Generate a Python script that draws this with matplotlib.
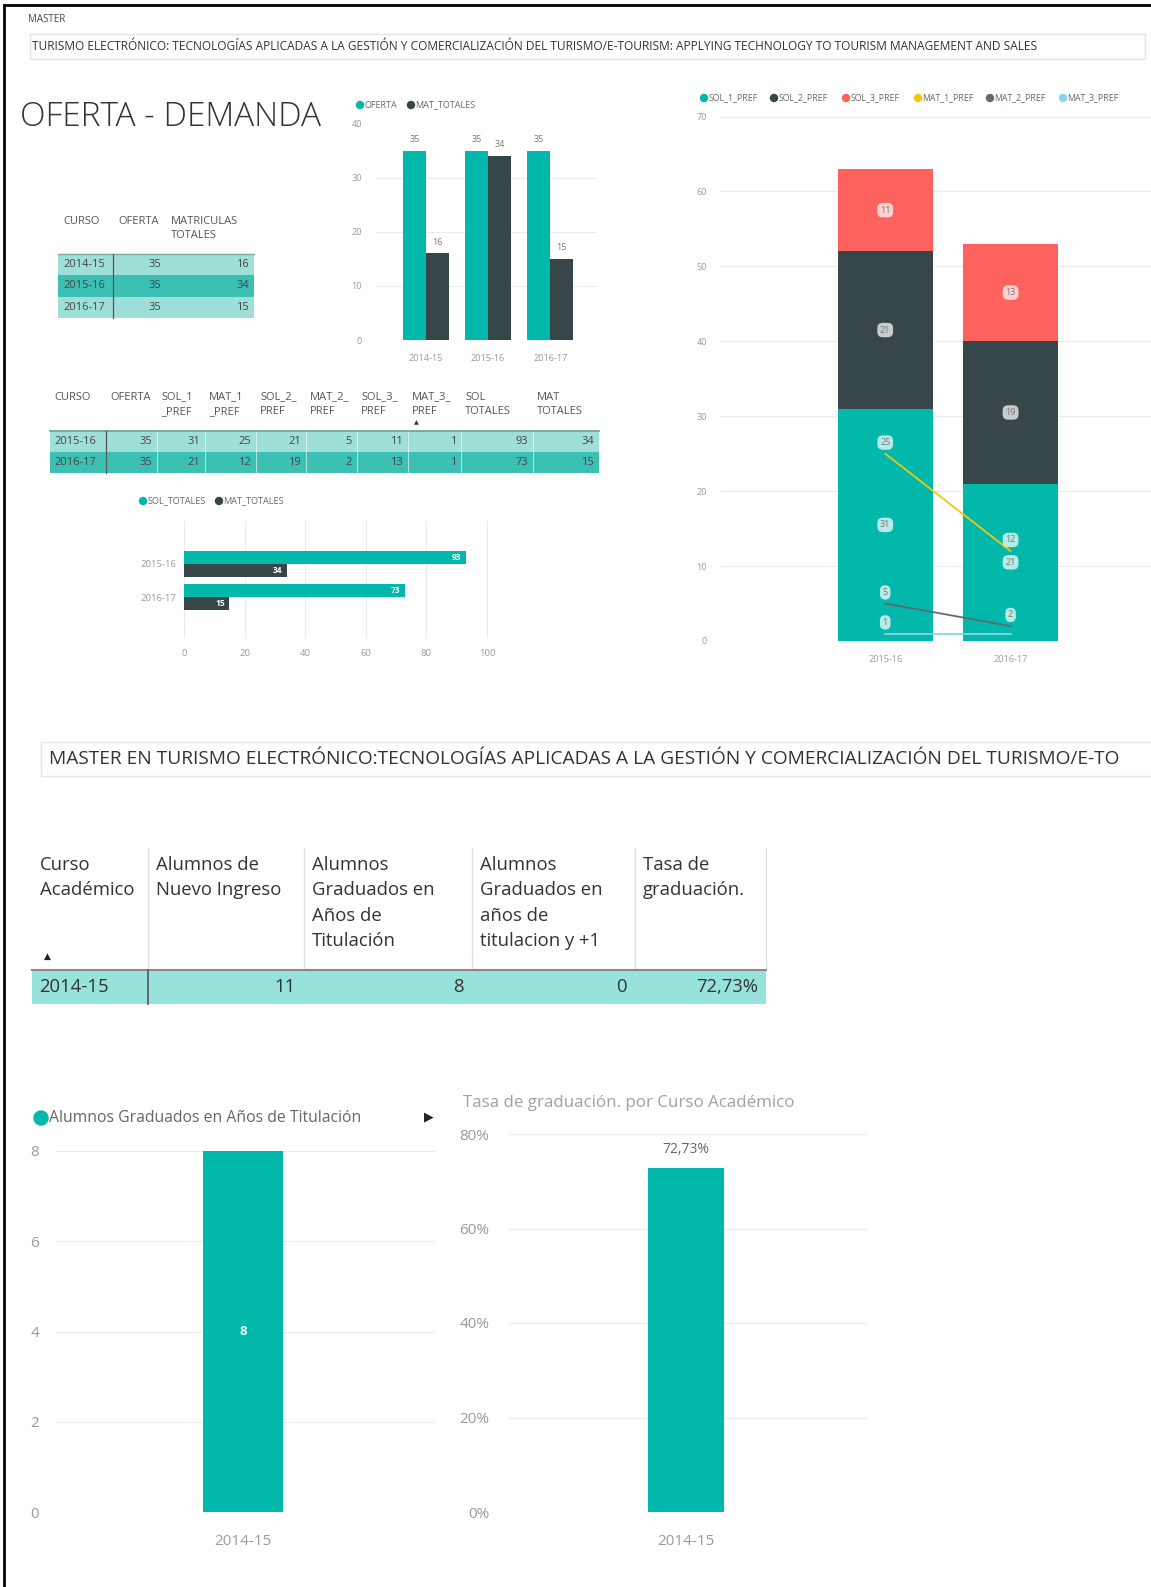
import matplotlib
matplotlib.use("Agg")
import matplotlib.pyplot as plt
from matplotlib.patches import Rectangle, Circle
from matplotlib.ticker import FuncFormatter

plt.rcParams['font.family'] = ['Open Sans', 'DejaVu Sans']

# ---- data ----
cursos_oferta = ['2014-15', '2015-16', '2016-17']
oferta = [35, 35, 35]
mat_totales = [16, 34, 15]

cursos_pref = ['2015-16', '2016-17']
oferta_pref = [35, 35]
sol_1_pref = [31, 21]
mat_1_pref = [25, 12]
sol_2_pref = [21, 19]
mat_2_pref = [5, 2]
sol_3_pref = [11, 13]
mat_3_pref = [1, 1]
sol_totales = [93, 73]
mat_totales_pref = [34, 15]

curso_academico = ['2014-15']
nuevo_ingreso = [11]
graduados_anios = [8]
graduados_anios_mas1 = [0]
tasa_graduacion = [72.73]

# power bi palette
TEAL = '#01B8AA'
DARK = '#374649'
RED = '#FD625E'
YELLOW = '#F2C80F'
GRAY = '#5F6B6D'
LBLUE = '#8AD4EB'
ROW_LIGHT = '#9EE0D8'
ROW_MID = '#3CC0B3'
GRID = '#EBEBEB'
TICK = '#9A9A9A'

W, H = 1151, 1587
fig = plt.figure(figsize=(W / 100, H / 100), dpi=100)

bg = fig.add_axes([0, 0, 1, 1])
bg.set_xlim(0, W)
bg.set_ylim(H, 0)
bg.axis('off')


def px_ax(x0, y0, x1, y1):
    return fig.add_axes([x0 / W, 1 - y1 / H, (x1 - x0) / W, (y1 - y0) / H])


def clean(ax, grid_axis='y'):
    for s in ax.spines.values():
        s.set_visible(False)
    ax.tick_params(length=0, colors=TICK)
    ax.grid(axis=grid_axis, color=GRID, lw=0.8)
    ax.set_axisbelow(True)
    ax.set_facecolor('none')


def legend_dot(x, y, r, color, label, size):
    bg.add_patch(Circle((x, y), r, color=color))
    bg.text(x + r + 1, y, label, fontsize=size, color='#666666', va='center')


# frame
bg.plot([4, 4], [5, H], color='black', lw=2)
bg.plot([4, W], [5, 5], color='black', lw=2)

# header
bg.text(28, 19, 'MASTER', fontsize=7, color='#444444', va='center')
bg.add_patch(Rectangle((30, 34), 1115, 25, fc='white', ec='#E4E4E4', lw=1))
bg.text(32, 46.5, 'TURISMO ELECTRÓNICO: TECNOLOGÍAS APLICADAS A LA GESTIÓN Y COMERCIALIZACIÓN DEL '
        'TURISMO/E-TOURISM: APPLYING TECHNOLOGY TO TOURISM MANAGEMENT AND SALES',
        fontsize=8.6, color='#333333', va='center')

bg.text(20, 117, 'OFERTA - DEMANDA', fontsize=24, color='#333333', va='center', fontweight='light')

# ---- table 1 ----
hs = 8
bg.text(63, 221, 'CURSO', fontsize=hs, color='#555555', va='center')
bg.text(118, 221, 'OFERTA', fontsize=hs, color='#555555', va='center')
bg.text(171, 221, 'MATRICULAS', fontsize=hs, color='#555555', va='center')
bg.text(171, 236, 'TOTALES', fontsize=hs, color='#555555', va='center')
rh = 21.3
for i, (c, o, m) in enumerate(zip(cursos_oferta, oferta, mat_totales)):
    y0 = 254 + i * rh
    bg.add_patch(Rectangle((58, y0), 196, rh, fc=ROW_MID if i == 1 else ROW_LIGHT, ec='none'))
    bg.text(63, y0 + rh / 2, c, fontsize=hs, color='#444444', va='center')
    bg.text(161, y0 + rh / 2, str(o), fontsize=hs, color='#444444', va='center', ha='right')
    bg.text(249, y0 + rh / 2, str(m), fontsize=hs, color='#444444', va='center', ha='right')
bg.plot([58, 254], [254, 254], color='#7AA8A3', lw=1)
bg.plot([113, 113], [254, 254 + 3 * rh], color='#555555', lw=0.9)

# ---- bar chart oferta / matriculas ----
legend_dot(360, 105, 3.5, TEAL, 'OFERTA', 6.5)
legend_dot(411, 105, 3.5, DARK, 'MAT_TOTALES', 6.5)
ax1 = px_ax(376, 123.5, 597, 340)
clean(ax1)
xs = list(range(len(cursos_oferta)))
bw = 0.37
b1 = ax1.bar([x - bw / 2 for x in xs], oferta, bw, color=TEAL)
b2 = ax1.bar([x + bw / 2 for x in xs], mat_totales, bw, color=DARK)
for bars, vals in ((b1, oferta), (b2, mat_totales)):
    for b, v in zip(bars, vals):
        ax1.text(b.get_x() + b.get_width() / 2, v + 1.2, str(v), ha='center', va='bottom',
                 fontsize=6.5, color='#777777')
ax1.set_ylim(0, 40)
ax1.set_yticks([0, 10, 20, 30, 40])
ax1.set_xlim(-0.8, 2.75)
ax1.set_xticks(xs)
ax1.set_xticklabels(cursos_oferta)
ax1.tick_params(labelsize=6.6, pad=10)

# ---- table 2 ----
t2_bounds = [50, 106, 157, 205, 256, 306, 357, 408, 461, 533, 599]
t2_head = [('CURSO', ''), ('OFERTA', ''), ('SOL_1', '_PREF'), ('MAT_1', '_PREF'), ('SOL_2_', 'PREF'),
           ('MAT_2_', 'PREF'), ('SOL_3_', 'PREF'), ('MAT_3_', 'PREF'), ('SOL', 'TOTALES'), ('MAT', 'TOTALES')]
for j, (l1, l2) in enumerate(t2_head):
    x = t2_bounds[j] + 4
    bg.text(x, 397, l1, fontsize=hs, color='#555555', va='center')
    if l2:
        bg.text(x, 412, l2, fontsize=hs, color='#555555', va='center')
bg.text(416, 423, '▲', fontsize=4.5, color='#333333', ha='center', va='center')
t2_rows = list(zip(oferta_pref, sol_1_pref, mat_1_pref, sol_2_pref, mat_2_pref,
                   sol_3_pref, mat_3_pref, sol_totales, mat_totales_pref))
rh2 = 21
for i, (c, vals) in enumerate(zip(cursos_pref, t2_rows)):
    y0 = 431 + i * rh2
    bg.add_patch(Rectangle((50, y0), 549, rh2, fc=ROW_LIGHT if i == 0 else ROW_MID, ec='none'))
    bg.text(54, y0 + rh2 / 2, c, fontsize=hs, color='#444444', va='center')
    for j, v in enumerate(vals):
        bg.text(t2_bounds[j + 2] - 5, y0 + rh2 / 2, str(v), fontsize=hs, color='#444444',
                va='center', ha='right')
for xb in t2_bounds[2:-1]:
    bg.plot([xb, xb], [431, 431 + 2 * rh2], color='white', lw=0.6, alpha=0.7)
bg.plot([50, 599], [431, 431], color='#6F9C97', lw=1.2)
bg.plot([106, 106], [431, 431 + 2 * rh2], color='#555555', lw=0.9)

# ---- horizontal bars sol / mat totales ----
legend_dot(143, 501, 3.5, TEAL, 'SOL_TOTALES', 6.6)
legend_dot(219, 501, 3.5, DARK, 'MAT_TOTALES', 6.6)
ax2 = px_ax(181, 521, 490, 638)
clean(ax2, 'x')
ys = list(range(len(cursos_pref)))
bh = 0.38
h1 = ax2.barh([y - bh / 2 for y in ys], sol_totales, bh, color=TEAL)
h2 = ax2.barh([y + bh / 2 for y in ys], mat_totales_pref, bh, color=DARK)
for bars, vals in ((h1, sol_totales), (h2, mat_totales_pref)):
    for b, v in zip(bars, vals):
        ax2.text(v - 1.5, b.get_y() + b.get_height() / 2, str(v), ha='right', va='center',
                 fontsize=6, color='white', fontweight='bold')
ax2.set_xlim(-1, 101)
ax2.set_xticks([0, 20, 40, 60, 80, 100])
ax2.set_ylim(2.23, -1.29)
ax2.set_yticks(ys)
ax2.set_yticklabels(cursos_pref)
ax2.tick_params(labelsize=6.8)
ax2.tick_params(axis='x', pad=8)

# ---- stacked preferences chart ----
leg = [(704, TEAL, 'SOL_1_PREF'), (774, DARK, 'SOL_2_PREF'), (846, RED, 'SOL_3_PREF'),
       (918, YELLOW, 'MAT_1_PREF'), (990, GRAY, 'MAT_2_PREF'), (1063, LBLUE, 'MAT_3_PREF')]
for x, c, l in leg:
    legend_dot(x, 98, 3.5, c, l, 6.3)
ax3 = px_ax(721, 116.5, 1151, 641)
clean(ax3)
xs3 = list(range(len(cursos_pref)))
bw3 = 0.76
box = dict(boxstyle='round,pad=0.3,rounding_size=0.6', fc='white', ec='none', alpha=0.72)
bottom = [0, 0]
for vals, c in ((sol_1_pref, TEAL), (sol_2_pref, DARK), (sol_3_pref, RED)):
    ax3.bar(xs3, vals, bw3, bottom=bottom, color=c)
    for x, v, b in zip(xs3, vals, bottom):
        ax3.text(x, b + v / 2, str(v), ha='center', va='center', fontsize=6.5,
                 color='#777777', bbox=box)
    bottom = [b + v for b, v in zip(bottom, vals)]
placed = []
for vals, c in ((mat_1_pref, YELLOW), (mat_2_pref, GRAY), (mat_3_pref, LBLUE)):
    ax3.plot(xs3, vals, color=c, lw=1.3)
    for x, v in zip(xs3, vals):
        # hide labels that would overlap one already drawn
        if any(px == x and abs(pv - v) < 2 for px, pv in placed):
            continue
        placed.append((x, v))
        ax3.annotate(str(v), (x, v), xytext=(0, 8), textcoords='offset points', ha='center',
                     va='center', fontsize=6.5, color='#777777', bbox=box)
ax3.set_ylim(0, 70)
ax3.set_yticks([0, 10, 20, 30, 40, 50, 60, 70])
ax3.set_xlim(-1.31, 2.12)
ax3.set_xticks(xs3)
ax3.set_xticklabels(cursos_pref)
ax3.tick_params(labelsize=6.6, pad=10)

# ---- second section ----
bg.add_patch(Rectangle((41, 742), 1120, 34, fc='white', ec='#E4E4E4', lw=1))
bg.text(49, 759.5, 'MASTER EN TURISMO ELECTRÓNICO:TECNOLOGÍAS APLICADAS A LA GESTIÓN Y '
        'COMERCIALIZACIÓN DEL TURISMO/E-TO', fontsize=13.8, color='#333333', va='center')

# ---- table 3 ----
t3_bounds = [32, 148, 304, 472, 635, 766]
t3_head = [['Curso', 'Académico'], ['Alumnos de', 'Nuevo Ingreso'],
           ['Alumnos', 'Graduados en', 'Años de', 'Titulación'],
           ['Alumnos', 'Graduados en', 'años de', 'titulacion y +1'],
           ['Tasa de', 'graduación.']]
for j, lines in enumerate(t3_head):
    for k, l in enumerate(lines):
        bg.text(t3_bounds[j] + 8, 865 + k * 25.3, l, fontsize=13.3, color='#333333', va='center')
for xb in t3_bounds[1:]:
    bg.plot([xb, xb], [848, 970], color='#E0E0E0', lw=1)
bg.text(47, 956, '▲', fontsize=6.5, color='#222222', ha='center', va='center')
t3_rows = list(zip(curso_academico, nuevo_ingreso, graduados_anios, graduados_anios_mas1, tasa_graduacion))
for i, (c, n, g, g1, t) in enumerate(t3_rows):
    y0 = 970 + i * 34
    bg.add_patch(Rectangle((32, y0), 734, 34, fc='#97E2DA', ec='none'))
    bg.text(39, y0 + 17, c, fontsize=13.3, color='#333333', va='center')
    cells = [str(n), str(g), str(g1), f'{t:.2f}'.replace('.', ',') + '%']
    for j, s in enumerate(cells):
        bg.text(t3_bounds[j + 2] - 8, y0 + 17, s, fontsize=13.3, color='#333333', va='center', ha='right')
bg.plot([32, 766], [970, 970], color='#8A8A8A', lw=1.5)
bg.plot([148, 148], [970, 1004], color='#555555', lw=1.2)

# ---- graduados chart ----
legend_dot(41, 1118, 7, TEAL, 'Alumnos Graduados en Años de Titulación', 11.3)
bg.text(429, 1117, '▶', fontsize=9, color='#222222', ha='center', va='center')
ax4 = px_ax(56, 1151, 435, 1512)
clean(ax4)
xs4 = list(range(len(curso_academico)))
b4 = ax4.bar(xs4, graduados_anios, 0.8, color=TEAL)
for x, v in zip(xs4, graduados_anios):
    ax4.text(x, v / 2, str(v), ha='center', va='center', fontsize=9.5, color='white', fontweight='bold')
ax4.set_ylim(0, 8)
ax4.set_yticks([0, 2, 4, 6, 8])
ax4.set_xlim(-1.87, 1.92)
ax4.set_xticks(xs4)
ax4.set_xticklabels(curso_academico)
ax4.tick_params(labelsize=11, pad=12)
ax4.tick_params(axis='x', pad=16)

# ---- tasa chart ----
bg.text(463, 1103, 'Tasa de graduación. por Curso Académico', fontsize=12.2, color='#A0A0A0', va='center')
ax5 = px_ax(509, 1134, 867, 1512)
clean(ax5)
b5 = ax5.bar(xs4, tasa_graduacion, 0.8, color=TEAL)
for x, v in zip(xs4, tasa_graduacion):
    ax5.text(x, v + 4, f'{v:.2f}'.replace('.', ',') + '%', ha='center', va='center',
             fontsize=10, color='#666666')
ax5.set_ylim(0, 80)
ax5.set_yticks([0, 20, 40, 60, 80])
ax5.yaxis.set_major_formatter(FuncFormatter(lambda v, p: f'{v:.0f}%'))
ax5.set_xlim(-1.86, 1.9)
ax5.set_xticks(xs4)
ax5.set_xticklabels(curso_academico)
ax5.tick_params(labelsize=11, pad=14)
ax5.tick_params(axis='x', pad=16)

fig.savefig('out.png', dpi=100)
